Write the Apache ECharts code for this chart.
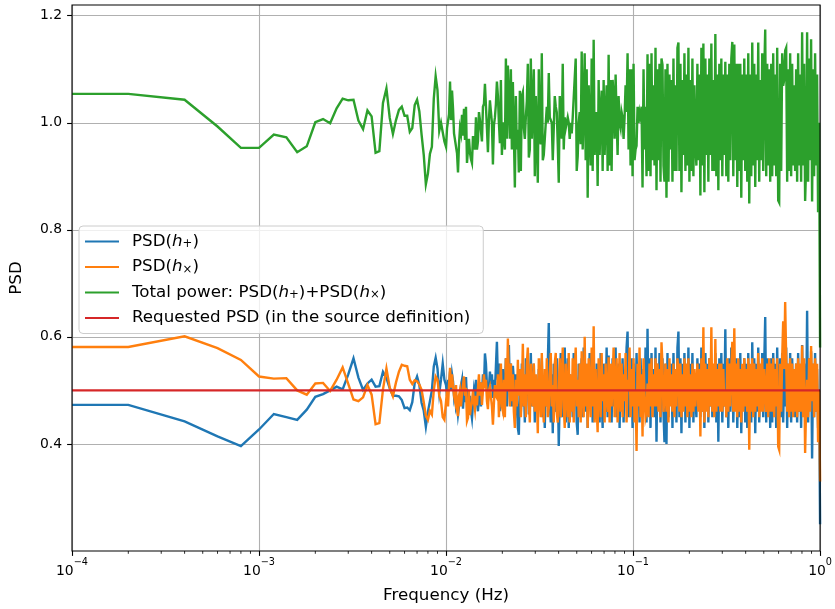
<!DOCTYPE html>
<html><head><meta charset="utf-8">
<script src="https://cdn.jsdelivr.net/npm/echarts@6/dist/echarts.min.js"></script>
<style>html,body{margin:0;padding:0;background:#fff}#c{width:835px;height:609px}</style>
</head><body><div id="c"></div>
<script>
// ---------- data ----------
// sampling grid: 1e-4 Hz, then uniform 2e-4 Hz steps up to 0.01 Hz, then 375 log-spaced samples up to 1 Hz
const lowStep = 2e-4, lowCount = 50, highCount = 375;

const blueLow = [0.473,0.473,0.442,0.414,0.396,0.427,0.456,0.450,0.445,0.464,0.488,0.493,0.500,0.507,0.502,0.530,0.560,0.524,0.501,0.513,0.520,
  0.507,0.508,0.535,0.523,0.504,0.490,0.490,0.489,0.482,0.467,0.468,0.463,0.478,0.514,0.526,0.510,0.477,0.462,0.432,0.460,
  0.480,0.500,0.545,0.561,0.541,0.495,0.520,0.550,0.520,0.510];
const orangeLow = [0.581,0.581,0.601,0.579,0.557,0.526,0.522,0.523,0.500,0.492,0.513,0.514,0.499,0.520,0.543,0.512,0.483,0.480,0.487,0.510,0.492,
  0.437,0.439,0.502,0.541,0.505,0.489,0.515,0.535,0.548,0.546,0.545,0.520,0.512,0.519,0.517,0.511,0.501,0.478,0.453,0.445,
  0.462,0.455,0.500,0.526,0.520,0.490,0.480,0.450,0.445,0.445];

const blueHigh = [
  .49,.52,.506,.535,.5,.53,.517,.49,.503,.47,.478,.455,.47,.49,.51,.52,.466,.5,.478,.525,.482,.501,.47,.49,.462,
  .448,.475,.5,.486,.52,.478,.461,.49,.515,.47,.492,.53,.505,.569,.55,.51,.48,.505,.535,.512,.53,.486,.52,.5,.545,
  .591,.52,.55,.461,.53,.47,.54,.452,.5,.56,.47,.51,.585,.5,.55,.47,.546,.52,.449,.53,.48,.43,.417,.52,.46,
  .55,.47,.52,.44,.56,.49,.53,.455,.51,.57,.47,.5,.55,.44,.52,.49,.468,.54,.47,.51,.56,.45,.5,.43,.53,
  .47,.55,.626,.48,.44,.53,.42,.55,.5,.46,.56,.52,.396,.49,.57,.45,.53,.48,.58,.44,.5,.56,.43,.53,.47,
  .52,.45,.57,.48,.54,.44,.417,.55,.47,.52,.56,.45,.58,.53,.46,.55,.43,.51,.57,.47,.54,.44,.535,.5,.45,
  .55,.46,.52,.44,.57,.49,.43,.55,.5,.46,.58,.45,.565,.48,.53,.44,.56,.47,.52,.58,.45,.5,.55,.43,.53,
  .47,.56,.44,.53,.5,.58,.61,.45,.52,.47,.56,.43,.55,.49,.45,.57,.48,.53,.44,.56,.5,.465,.54,.46,.58,
  .44,.615,.46,.56,.43,.57,.48,.54,.45,.58,.404,.55,.47,.57,.44,.53,.56,.46,.403,.55,.4,.57,.45,.53,.48,
  .55,.43,.57,.46,.53,.44,.58,.61,.45,.56,.42,.55,.48,.57,.44,.54,.47,.58,.43,.55,.46,.57,.44,.53,.49,
  .45,.56,.47,.55,.45,.58,.46,.53,.43,.57,.48,.55,.44,.56,.47,.53,.45,.53,.46,.57,.44,.55,.404,.56,.47,
  .57,.44,.55,.47,.614,.45,.53,.43,.56,.46,.58,.56,.44,.53,.47,.56,.43,.55,.45,.57,.42,.54,.47,.56,.44,
  .55,.43,.57,.46,.54,.44,.59,.47,.56,.42,.55,.46,.58,.44,.53,.47,.57,.45,.55,.637,.44,.56,.47,.54,.43,
  .56,.44,.57,.47,.55,.43,.58,.46,.462,.56,.45,.57,.44,.54,.47,.58,.43,.55,.46,.57,.44,.56,.47,.53,.45,
  .55,.44,.57,.46,.54,.43,.585,.47,.55,.471,.45,.649,.44,.56,.47,.573,.373,.55,.45,.57,.46,.54,.43,.5,.25];

const orangeHigh = [
  .5,.47,.51,.542,.505,.53,.51,.49,.48,.51,.465,.452,.49,.5,.47,.495,.51,.526,.49,.505,.443,.449,.5,.454,.47,
  .477,.5,.478,.464,.49,.472,.504,.53,.49,.515,.473,.5,.53,.504,.52,.48,.465,.5,.507,.509,.47,.436,.475,.51,.49,
  .486,.53,.45,.501,.55,.47,.461,.52,.45,.56,.5,.597,.52,.47,.55,.48,.53,.46,.43,.52,.47,.557,.49,.54,.45,
  .5,.587,.47,.53,.45,.55,.58,.48,.44,.55,.5,.47,.55,.46,.53,.49,.42,.56,.5,.45,.57,.48,.44,.54,.47,
  .56,.45,.467,.53,.57,.47,.51,.44,.55,.57,.46,.44,.492,.56,.45,.52,.58,.47,.43,.55,.5,.45,.57,.44,.53,
  .46,.56,.44,.53,.58,.47,.52,.45,.55,.44,.573,.5,.45,.6,.47,.55,.43,.56,.5,.45,.58,.47,.62,.44,.54,
  .47,.422,.56,.5,.45,.57,.48,.53,.44,.55,.49,.46,.562,.44,.55,.47,.52,.58,.45,.51,.56,.44,.5,.57,.46,
  .55,.45,.53,.48,.57,.44,.52,.5,.58,.45,.54,.47,.56,.44,.5,.387,.55,.47,.58,.45,.53,.414,.56,.49,.45,
  .46,.513,.45,.55,.47,.56,.45,.53,.47,.56,.47,.55,.46,.54,.45,.59,.548,.46,.487,.55,.46,.54,.44,.56,.47,
  .53,.46,.55,.45,.54,.47,.56,.54,.46,.55,.45,.53,.46,.56,.47,.55,.45,.56,.46,.53,.45,.55,.46,.54,.47,
  .47,.55,.46,.54,.414,.56,.46,.618,.44,.55,.46,.54,.45,.56,.47,.618,.46,.55,.45,.596,.46,.54,.47,.55,.46,
  .55,.46,.54,.47,.5,.45,.56,.46,.55,.47,.54,.591,.46,.616,.46,.55,.45,.56,.46,.54,.44,.55,.46,.56,.47,
  .54,.46,.56,.389,.55,.46,.56,.45,.55,.46,.54,.47,.57,.45,.55,.46,.56,.46,.54,.537,.46,.55,.45,.56,.46,
  .55,.46,.56,.45,.54,.47,.56,.395,.389,.55,.46,.56,.629,.54,.665,.56,.46,.55,.45,.56,.46,.55,.45,.54,.46,
  .55,.45,.56,.46,.55,.46,.584,.45,.56,.383,.47,.52,.45,.56,.46,.583,.48,.55,.45,.56,.46,.55,.403,.5,.33];

const requestedFreq = [1e-4, 1];
const requestedPSD = [0.5, 0.5];

const xTickExponents = [-4, -3, -2, -1, 0];
const yTicks = [0.4, 0.6, 0.8, 1.0, 1.2];
const minorMultipliers = [2, 3, 4, 5, 6, 7, 8, 9];

const seriesNames = ['PSD(h+)', 'PSD(h×)', 'Total power: PSD(h+)+PSD(h×)', 'Requested PSD (in the source definition)'];
const colors = ['#1f77b4', '#ff7f0e', '#2ca02c', '#d62728'];

// ---------- build ----------
const freqs = [1e-4];
for (let k = 1; k <= lowCount; k++) freqs.push(+(k * lowStep).toPrecision(6));
for (let j = 1; j <= highCount; j++) freqs.push(0.01 * Math.pow(10, 2 * j / highCount));
const blue = blueLow.concat(blueHigh);
const orange = orangeLow.concat(orangeHigh);
const green = blue.map((v, i) => +(v + orange[i]).toFixed(4));
const pairs = arr => freqs.map((f, i) => [f, arr[i]]);

const minorTicks = [];
for (let e = xTickExponents[0]; e < xTickExponents[xTickExponents.length - 1]; e++)
  minorMultipliers.forEach(m => minorTicks.push([m * Math.pow(10, e), 0.2]));

const FONT = 'DejaVu Sans';
const LW = 2.4;
const legendText = {
  [seriesNames[0]]: '{g|}{t|PSD(}{i|h}{s|+}{t|)}',
  [seriesNames[1]]: '{g|}{t|PSD(}{i|h}{s|×}{t|)}',
  [seriesNames[2]]: '{g|}{t|Total power: PSD(}{i|h}{s|+}{t|)+PSD(}{i|h}{s|×}{t|)}',
  [seriesNames[3]]: '{g|}{t|Requested PSD (in the source definition)}'
};

const chart = echarts.init(document.getElementById('c'), null, {renderer: 'canvas'});
const lineSeries = (name, data, color) => ({
  name, type: 'line', data, showSymbol: false, symbol: 'none', silent: true,
  lineStyle: {color, width: LW, join: 'miter'}, itemStyle: {color}, animation: false
});
chart.setOption({
  animation: false,
  color: colors,
  grid: {left: 71, right: 14, top: 5, bottom: 56, show: true, z: 10, borderColor: '#000', borderWidth: 1.1, backgroundColor: 'transparent'},
  xAxis: {
    type: 'log', logBase: 10, min: 1e-4, max: 1,
    name: 'Frequency (Hz)', nameLocation: 'middle', nameGap: 36,
    nameTextStyle: {fontFamily: FONT, fontSize: 16.7, color: '#000'},
    axisLine: {show: false},
    axisTick: {show: true, inside: false, length: 4.9, lineStyle: {color: '#000', width: 1.1}},
    minorTick: {show: false},
    splitLine: {show: true, lineStyle: {color: '#b0b0b0', width: 1.1}},
    axisLabel: {
      margin: 6, color: '#000',
      formatter: v => {
        const e = Math.round(Math.log10(v));
        const s = String(e).replace('-', '−');
        return '{b|10}{p|' + s + '}';
      },
      rich: {
        b: {fontFamily: FONT, fontSize: 13.9, lineHeight: 21, verticalAlign: 'bottom', color: '#000'},
        p: {fontFamily: FONT, fontSize: 9.7, lineHeight: 11, verticalAlign: 'top', color: '#000'}
      }
    }
  },
  yAxis: {
    type: 'value', min: 0.2, max: 1.22, interval: 0.2,
    name: 'PSD', nameLocation: 'middle', nameGap: 47,
    nameTextStyle: {fontFamily: FONT, fontSize: 16.7, color: '#000'},
    axisLine: {show: false},
    axisTick: {show: true, inside: false, length: 4.9, customValues: yTicks, lineStyle: {color: '#000', width: 1.1}},
    splitLine: {show: true, lineStyle: {color: '#b0b0b0', width: 1.1}},
    axisLabel: {
      customValues: yTicks, margin: 10, color: '#000', fontFamily: FONT, fontSize: 13.9,
      formatter: v => yTicks.some(t => Math.abs(t - v) < 1e-6) ? v.toFixed(1) : ''
    }
  },
  legend: {
    data: seriesNames, orient: 'vertical', left: 79, top: 226,
    icon: 'rect', itemWidth: 34, itemHeight: 2.2, itemGap: 8.5,
    padding: [7, 13, 7, 6],
    backgroundColor: 'rgba(255,255,255,0.8)', borderColor: '#cccccc', borderWidth: 1, borderRadius: 4,
    selectedMode: false,
    formatter: n => legendText[n],
    textStyle: {
      fontFamily: FONT, fontSize: 16.7, color: '#000',
      rich: {
        g: {width: 8},
        t: {fontFamily: FONT, fontSize: 16.7, lineHeight: 17, color: '#000'},
        i: {fontFamily: FONT, fontSize: 16.7, fontStyle: 'italic', lineHeight: 17, color: '#000'},
        s: {fontFamily: FONT, fontSize: 11.7, lineHeight: 11, verticalAlign: 'bottom', color: '#000'}
      }
    }
  },
  series: [
    lineSeries(seriesNames[0], pairs(blue), colors[0]),
    lineSeries(seriesNames[1], pairs(orange), colors[1]),
    lineSeries(seriesNames[2], pairs(green), colors[2]),
    lineSeries(seriesNames[3], requestedFreq.map((f, i) => [f, requestedPSD[i]]), colors[3]),
    {
      type: 'custom', name: 'minorTicks', silent: true, clip: false, z: 11,
      data: minorTicks,
      renderItem: (params, api) => {
        const p = api.coord([api.value(0), api.value(1)]);
        return {type: 'line', shape: {x1: p[0], y1: p[1], x2: p[0], y2: p[1] + 2.8}, style: {stroke: '#000', lineWidth: 0.83}};
      }
    }
  ]
});
</script></body></html>
